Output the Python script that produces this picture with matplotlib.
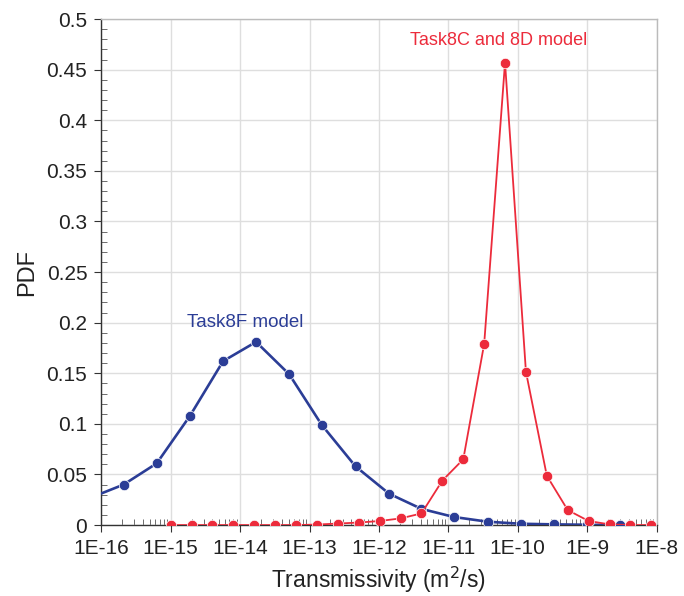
import matplotlib
matplotlib.use("Agg")
from matplotlib import pyplot as plt
from matplotlib.ticker import FixedLocator, FuncFormatter, LogLocator, MultipleLocator
import numpy as np

BLUE = "#2b3d96"
RED = "#ec2b3b"
GRID = "#dedede"

# Task8F model (step ~ factor 3), first point lies left of the axis
t8f_x = [7.0e-17, 2.1e-16, 6.3e-16, 1.9e-15, 5.7e-15, 1.7e-14, 5.1e-14, 1.5e-13,
         4.6e-13, 1.4e-12, 4.1e-12, 1.2e-11, 3.7e-11, 1.1e-10, 3.3e-10, 1.0e-9, 3.0e-9]
t8f_pdf = [0.027, 0.040, 0.061, 0.108, 0.162, 0.181, 0.149, 0.099,
           0.058, 0.031, 0.016, 0.008, 0.0033, 0.0013, 0.0007, 0.0003, 0.0]

# Task8C and 8D model (step ~ factor 2)
t8cd_x = [1.0e-15, 2.0e-15, 4.0e-15, 8.0e-15, 1.6e-14, 3.2e-14, 6.4e-14, 1.28e-13,
          2.56e-13, 5.12e-13, 1.02e-12, 2.05e-12, 4.1e-12, 8.2e-12, 1.64e-11, 3.28e-11,
          6.55e-11, 1.31e-10, 2.62e-10, 5.24e-10, 1.05e-9, 2.1e-9, 4.19e-9, 8.39e-9]
t8cd_pdf = [0.0, 0.0, 0.0, 0.0, 0.0, 0.0, 0.0, 0.0005,
            0.0015, 0.0025, 0.004, 0.0066, 0.0115, 0.044, 0.065, 0.179,
            0.457, 0.1515, 0.0487, 0.0148, 0.004, 0.0007, 0.0, 0.0]

decades = [1e-16, 1e-15, 1e-14, 1e-13, 1e-12, 1e-11, 1e-10, 1e-9, 1e-8]

plt.rcParams['font.family'] = ['Liberation Sans', 'DejaVu Sans']

fig = plt.figure(figsize=(6.84, 5.96), dpi=100)
ax = fig.add_axes([0.148, 0.119, 0.812, 0.849])

ax.plot(t8f_x, t8f_pdf, color=BLUE, lw=1.9, marker='o', ms=7.5,
        markeredgecolor='white', markeredgewidth=0.5, zorder=3)
ax.plot(t8cd_x, t8cd_pdf, color=RED, lw=1.3, marker='o', ms=7.5,
        markeredgecolor='white', markeredgewidth=0.5, zorder=4)

ax.set_xscale('log')
ax.set_xlim(1e-16, 1e-8)
ax.set_ylim(0, 0.5)

ax.xaxis.set_major_locator(FixedLocator(decades))
ax.xaxis.set_major_formatter(FuncFormatter(lambda v, p: "1E%d" % round(np.log10(v))))
ax.xaxis.set_minor_locator(LogLocator(base=10, subs=np.arange(2, 10), numticks=20))
ax.yaxis.set_major_locator(MultipleLocator(0.05))
ax.yaxis.set_minor_locator(MultipleLocator(0.01))
ax.yaxis.set_major_formatter(FuncFormatter(lambda v, p: ("%.2f" % v).rstrip('0').rstrip('.') if v else "0"))

ax.grid(True, which='major', color=GRID, lw=1.0, zorder=0)
ax.set_axisbelow(True)

for side in ['top', 'right']:
    ax.spines[side].set_color('#bbbbbb')
    ax.spines[side].set_linewidth(1.0)
for side in ['left', 'bottom']:
    ax.spines[side].set_color('#333333')
    ax.spines[side].set_linewidth(1.0)

ax.tick_params(which='major', direction='out', length=5, width=0.8, colors='#333333',
               labelsize=15, labelcolor='#222222', pad=5)
ax.tick_params(which='minor', direction='in', length=4, width=0.6, colors='#555555')
ax.tick_params(top=False, right=False, which='both')

ax.set_xlabel("Transmissivity (m$^2$/s)", fontsize=16.5, color='#222222', labelpad=5)
ax.set_ylabel("PDF", fontsize=17, color='#222222', labelpad=6)

ax.text(1.2e-14, 0.2, "Task8F model", color=BLUE, fontsize=13.5, ha='center', va='center')
ax.text(5.3e-11, 0.479, "Task8C and 8D model", color=RED, fontsize=13, ha='center', va='center')

fig.savefig("out.png", dpi=100)
